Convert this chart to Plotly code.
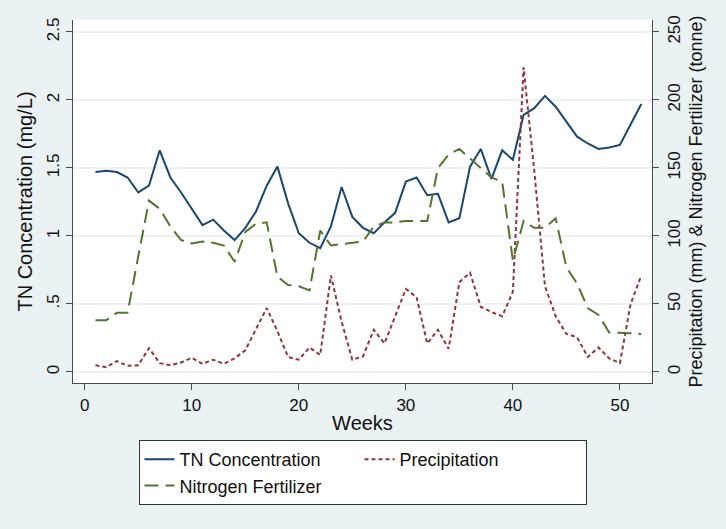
import plotly.graph_objects as go

weeks = list(range(1, 53))

tn_conc = [1.47, 1.48, 1.47, 1.43, 1.32, 1.37, 1.63, 1.43, 1.32, 1.20,
           1.08, 1.12, 1.04, 0.97, 1.06, 1.18, 1.37, 1.51, 1.24, 1.02,
           0.95, 0.91, 1.07, 1.36, 1.14, 1.06, 1.02, 1.10, 1.17, 1.40,
           1.43, 1.30, 1.31, 1.10, 1.13, 1.51, 1.64, 1.42, 1.63, 1.56,
           1.89, 1.94, 2.03, 1.95, 1.84, 1.73, 1.68, 1.64, 1.65, 1.67,
           1.82, 1.97]

precip = [5, 3.5, 8, 4.5, 5, 17.5, 6.5, 5, 7, 10.5,
          6, 9, 6, 10, 16, 31, 47, 30, 11, 9,
          18, 12.5, 71, 37, 9, 11.5, 31, 21, 41, 61,
          55, 21, 31, 17, 66, 73, 48, 44, 41, 59,
          224, 148, 63, 41, 28, 25.5, 11, 18, 10, 6.5,
          50, 71]

fertilizer = [38, 38, 43.5, 43.5, 85, 126, 120, 107, 97, 94.5,
              96, 95, 93, 81, 103, 109, 110, 70, 64, 63,
              60, 104, 93, 94, 95, 96, 107, 110, 110, 111,
              111, 111, 150, 160, 164, 157, 150, 143, 140, 82,
              111, 106, 106, 113, 77, 65, 47, 42, 29, 29,
              28.5, 28]

x_ticks = [0, 10, 20, 30, 40, 50]
left_ticks = [0, 0.5, 1, 1.5, 2, 2.5]
left_labels = ["0", ".5", "1", "1.5", "2", "2.5"]
right_ticks = [0, 50, 100, 150, 200, 250]

bg = "#eaf2f3"
axis_col = "#4a4a4a"
fam = "Liberation Sans, Arial, sans-serif"
font = dict(family=fam, size=17, color="#111111")

fig = go.Figure()
fig.add_trace(go.Scatter(x=weeks, y=tn_conc, mode="lines", name="TN Concentration",
                         line=dict(color="#1a476f", width=2)))
fig.add_trace(go.Scatter(x=weeks, y=precip, mode="lines", name="Precipitation",
                         yaxis="y2", line=dict(color="#90353b", width=2, dash="4px,3px")))
fig.add_trace(go.Scatter(x=weeks, y=fertilizer, mode="lines", name="Nitrogen Fertilizer",
                         yaxis="y2", line=dict(color="#55752f", width=2, dash="14px,7px")))

fig.update_layout(
    width=726, height=529,
    paper_bgcolor=bg, plot_bgcolor="white",
    font=font,
    margin=dict(l=72.5, r=74.3, t=20, b=146),
    xaxis=dict(range=[-1.1, 53], tickvals=x_ticks, showgrid=False, zeroline=False,
               showline=True, linecolor=axis_col, linewidth=1.2,
               ticks="outside", ticklen=6, tickcolor=axis_col,
               title=dict(text="Weeks", standoff=2)),
    yaxis=dict(range=[-0.081, 2.588], tickvals=left_ticks, ticktext=left_labels,
               tickangle=-90, showgrid=True, gridcolor="#eef2f2", gridwidth=1.5,
               zeroline=False, showline=True, linecolor=axis_col, linewidth=1.2,
               ticks="outside", ticklen=6, tickcolor=axis_col,
               title=dict(text="TN Concentration (mg/L)", standoff=6)),
    yaxis2=dict(range=[-8.1, 258.8], tickvals=right_ticks, tickangle=-90,
                overlaying="y", side="right", showgrid=False, zeroline=False,
                showline=True, linecolor=axis_col, linewidth=1.2,
                ticks="outside", ticklen=6, tickcolor=axis_col,
                title=dict(text="Precipitation (mm) & Nitrogen Fertilizer (tonne)",
                           standoff=6, font=dict(family=fam, size=18, color="#111111"))),
    legend=dict(orientation="h", x=0.5, xanchor="center", y=-0.157, yanchor="top",
                bgcolor="white", bordercolor="#333333", borderwidth=1,
                entrywidth=0.38, entrywidthmode="fraction",
                font=dict(family=fam, size=18, color="#111111")),
    showlegend=True,
)

# drop the browser's default 8px body margin so the figure fills the window
fig.write_html("out.html", config={"displayModeBar": False},
               post_script="document.body.style.margin='0';")
